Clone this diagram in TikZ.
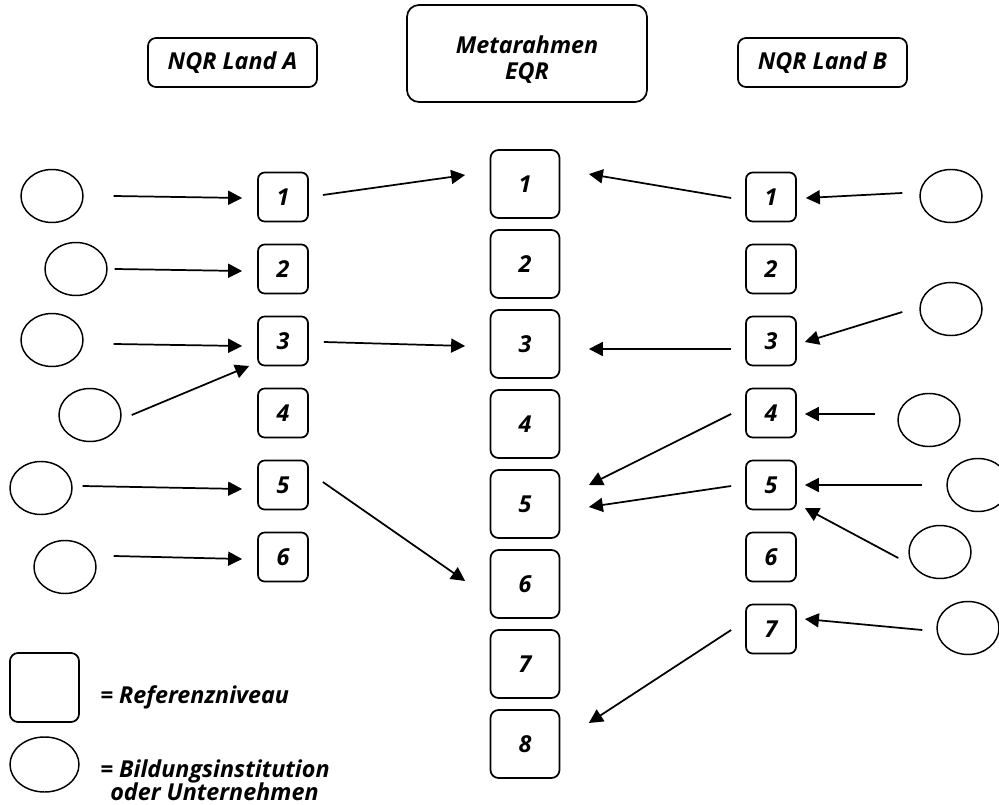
\documentclass[tikz,border=0pt]{standalone}
\usepackage{fontspec}
\setmainfont{Open Sans}
\usetikzlibrary{arrows.meta,shapes.geometric}
\begin{document}
\begin{tikzpicture}[x=0.75pt,y=-0.75pt,
  lbl/.style={font=\fontsize{17.5}{21}\selectfont\bfseries\itshape},
  sbox/.style={draw,line width=1.3pt,rounded corners=5pt,minimum width=37.5pt,minimum height=36.75pt,inner sep=0pt,lbl},
  mbox/.style={draw,line width=1.3pt,rounded corners=6pt,minimum width=51.75pt,minimum height=51pt,inner sep=0pt,lbl},
  hbox/.style={draw,line width=1.3pt,rounded corners=6pt,minimum width=126.75pt,minimum height=36.75pt,inner sep=0pt,lbl},
  inst/.style={draw,ellipse,line width=1.1pt,minimum width=46.5pt,minimum height=39.75pt,inner sep=0pt},
  arr/.style={-{Triangle[length=10.5pt,width=10.5pt]},line width=1.3pt}]
\useasboundingbox (0,0) rectangle (999,805);

% header boxes
\node[hbox] (nqra) at (232.5,62.5) {NQR Land A};
\node[hbox,rounded corners=9pt,minimum width=180pt,minimum height=72.75pt] (eqr) at (527,53.5) {};
\node[lbl,align=center,inner sep=0pt,font=\fontsize{17.5}{19.5}\selectfont\bfseries\itshape]
  (eqrtxt) at ([yshift=-4.5pt]eqr.center) {Metarahmen\\EQR};
\node[hbox] (nqrb) at (822.5,62.5) {NQR Land B};

% left column
\foreach \i/\y in {1/197,2/269,3/341,4/413,5/485,6/557}
  \node[sbox] (bL\i) at (283,\y) {\i};
% middle column
\foreach \i/\y in {1/184,2/264,3/344,4/424,5/504,6/584,7/664,8/744}
  \node[mbox] (m\i) at (525,\y) {\i};
% right column
\foreach \i/\y in {1/197,2/269,3/341,4/413,5/485,6/557,7/629}
  \node[sbox] (bR\i) at (771,\y) {\i};

% institutions left
\node[inst] (eL1) at (52,196) {};
\node[inst] (eL2) at (76,269) {};
\node[inst] (eL3) at (52,340) {};
\node[inst] (eL4) at (90,415) {};
\node[inst] (eL5) at (41,488) {};
\node[inst] (eL6) at (65,567) {};
% institutions right
\node[inst] (eR1) at (951,196) {};
\node[inst] (eR3) at (951,309) {};
\node[inst] (eR4) at (929,420) {};
\node[inst] (eR5a) at (978,485) {};
\node[inst] (eR5b) at (940,552) {};
\node[inst] (eR7) at (968,628) {};

% arrows left
\draw[arr] ([shift={(30,0)}]eL1.east) -- ([shift={(-15,1)}]bL1.west);
\draw[arr] ([shift={(14,-2)}]bL1.east) -- ([shift={(-24.5,-9)}]m1.west);
\draw[arr] ([shift={(7,0)}]eL2.east) -- ([shift={(-15,2)}]bL2.west);
\draw[arr] ([shift={(30,4)}]eL3.east) -- ([shift={(-15,5)}]bL3.west);
\draw[arr] ([shift={(10,0)}]eL4.east) -- ([shift={(-8,25)}]bL3.west);
\draw[arr] ([shift={(15,1)}]bL3.east) -- ([shift={(-24.5,2)}]m3.west);
\draw[arr] ([shift={(10,-2)}]eL5.east) -- ([shift={(-15,4)}]bL5.west);
\draw[arr] ([shift={(17,-11)}]eL6.east) -- ([shift={(-15,2)}]bL6.west);
\draw[arr] ([shift={(14,-3)}]bL5.east) -- ([shift={(-24.5,-3)}]m6.west);

% arrows right
\draw[arr] ([shift={(-17,-3)}]eR1.west) -- ([shift={(9,1)}]bR1.east);
\draw[arr] ([shift={(-14,1)}]bR1.west) -- ([shift={(28.5,-10)}]m1.east);
\draw[arr] ([shift={(-17,3)}]eR3.west) -- ([shift={(8,1)}]bR3.east);
\draw[arr] ([shift={(-14,8)}]bR3.west) -- ([shift={(28.5,5)}]m3.east);
\draw[arr] ([shift={(-22,-6)}]eR4.west) -- ([shift={(8,1)}]bR4.east);
\draw[arr] ([shift={(-14,1)}]bR4.west) -- ([shift={(28.5,-19)}]m5.east);
\draw[arr] ([shift={(-24,0)}]eR5a.west) -- ([shift={(8,0)}]bR5.east);
\draw[arr] ([shift={(-14,1)}]bR5.west) -- ([shift={(28.5,3)}]m5.east);
\draw[arr] ([shift={(-10,6)}]eR5b.west) -- ([shift={(8,23)}]bR5.east);
\draw[arr] ([shift={(-14,2)}]eR7.west) -- ([shift={(8,-10)}]bR7.east);
\draw[arr] ([shift={(-14,1)}]bR7.west) -- ([shift={(28.5,-21)}]m8.east);

% legend
\node[mbox,minimum height=51.75pt] (legbox) at (44.5,687.5) {};
\node[inst,minimum width=51.75pt,minimum height=41.25pt] (legell) at (44.5,764.5) {};
\node[lbl,anchor=base west,inner sep=0pt] (legt1) at (100,703) {= Referenzniveau};
\node[lbl,anchor=base west,inner sep=0pt] (legt2) at (100,777) {= Bildungsinstitution};
\node[lbl,anchor=base west,inner sep=0pt] (legt3) at (110,800) {oder Unternehmen};
\end{tikzpicture}
\end{document}
